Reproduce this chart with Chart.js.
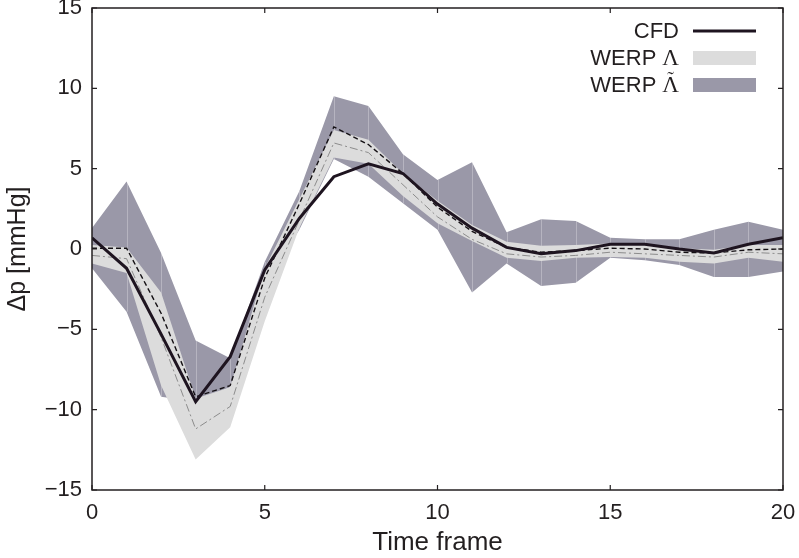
<!DOCTYPE html>
<html><head><meta charset="utf-8">
<script src="https://cdn.jsdelivr.net/npm/chart.js@4/dist/chart.umd.min.js"></script>
<style>html,body{margin:0;padding:0;background:#fff;}#wrap{width:799px;height:558px;}</style>
</head><body><div id="wrap"><canvas id="c" width="799" height="558"></canvas></div>
<script>
const frames = [0,1,2,3,4,5,6,7,8,9,10,11,12,13,14,15,16,17,18,19,20];
const xTickValues = [0,5,10,15,20];
const yTickValues = [-15,-10,-5,0,5,10,15];
const cfd        = [0.7,-1.2,-5.3,-9.5,-6.7,-1.3,1.9,4.5,5.3,4.7,2.8,1.3,0.1,-0.3,-0.1,0.3,0.3,0.0,-0.25,0.3,0.7];
const meanDashed = [0.05,0.05,-4.0,-9.2,-8.5,-1.8,2.8,7.6,6.5,4.7,2.6,1.1,0.1,-0.2,-0.1,0.05,0.0,-0.2,-0.25,-0.05,0.0];
const meanDashDot= [-0.4,-0.6,-5.5,-11.2,-9.8,-3.0,1.8,6.6,6.0,4.0,2.0,0.6,-0.3,-0.5,-0.4,-0.2,-0.3,-0.4,-0.5,-0.2,-0.3];
const lightUpper = [0.25,0.1,-2.7,-9.3,-8.6,-1.2,3.1,7.4,6.8,4.7,3.0,1.5,0.45,0.2,0.25,0.35,0.25,0.05,-0.05,0.25,0.25];
const lightLower = [-0.9,-1.5,-8.5,-13.1,-11.1,-4.5,1.3,5.7,5.3,3.3,1.6,0.5,-0.55,-0.75,-0.55,-0.5,-0.55,-0.8,-0.9,-0.55,-0.8];
const darkUpper  = [1.3,4.2,-0.25,-5.7,-6.8,-0.8,3.6,9.5,8.9,5.9,4.3,5.4,1.05,1.85,1.75,0.7,0.6,0.6,1.2,1.7,1.2];
const darkLower  = [-1.2,-3.9,-9.2,-9.5,-8.6,-2.2,1.2,5.6,4.5,2.85,1.2,-2.7,-0.9,-2.3,-2.1,-0.55,-0.7,-1.0,-1.75,-1.75,-1.4];
const legendLabels = ['CFD', 'WERP', 'WERP'];
const legendSymbols = ['', '\u039B', '\u039B'];
const legendTilde = [false, false, true];

const TXT = '#231f20';
const DARK = '#9a98a8';
const LIGHT = '#dcdcdc';
const SANS = '"Liberation Sans", Arial, sans-serif';
const SERIF = '"Liberation Serif", "DejaVu Serif", serif';
const pts = arr => frames.map((f, i) => ({x: f, y: arr[i]}));
const minus = v => (v < 0 ? '\u2212' + Math.abs(v) : String(v));

const seams = {
  id: 'seams',
  afterDatasetDraw(chart, args) {
    if (args.index !== 5) return;
    const {ctx, chartArea, scales: {x, y}} = chart;
    ctx.save();
    ctx.beginPath(); ctx.rect(chartArea.left, chartArea.top, chartArea.width, chartArea.height); ctx.clip();
    ctx.strokeStyle = 'rgba(255,255,255,0.28)';
    ctx.lineWidth = 1;
    frames.forEach((f, i) => {
      if (i === 0 || i === frames.length - 1) return;
      const px = Math.round(x.getPixelForValue(f)) + 0.5;
      ctx.beginPath();
      ctx.moveTo(px, y.getPixelForValue(darkUpper[i]));
      ctx.lineTo(px, y.getPixelForValue(darkLower[i]));
      ctx.stroke();
    });
    ctx.restore();
  }
};

const frame = {
  id: 'frame',
  afterDraw(chart) {
    const {ctx, chartArea: a, scales: {x, y}} = chart;
    ctx.save();
    ctx.strokeStyle = TXT;
    ctx.lineWidth = 1.5;
    ctx.strokeRect(a.left, a.top, a.width, a.height);
    ctx.lineWidth = 1.2;
    const tl = 5;
    xTickValues.forEach(v => {
      const px = x.getPixelForValue(v);
      ctx.beginPath();
      ctx.moveTo(px, a.bottom); ctx.lineTo(px, a.bottom - tl);
      ctx.moveTo(px, a.top); ctx.lineTo(px, a.top + tl);
      ctx.stroke();
    });
    yTickValues.forEach(v => {
      const py = y.getPixelForValue(v);
      ctx.beginPath();
      ctx.moveTo(a.left, py); ctx.lineTo(a.left + tl, py);
      ctx.moveTo(a.right, py); ctx.lineTo(a.right - tl, py);
      ctx.stroke();
    });
    // legend
    const rows = [31, 58, 85];
    const textRight = 679, sx0 = 693, sx1 = 756;
    ctx.textBaseline = 'middle';
    ctx.fillStyle = TXT;
    rows.forEach((ry, i) => {
      if (i === 0) {
        ctx.font = '22px ' + SANS;
        ctx.textAlign = 'right';
        ctx.fillText(legendLabels[i], textRight, ry + 1);
        ctx.strokeStyle = '#1e1420'; ctx.lineWidth = 3;
        ctx.beginPath(); ctx.moveTo(sx0, ry); ctx.lineTo(sx1, ry); ctx.stroke();
      } else {
        ctx.font = '23px ' + SERIF;
        ctx.textAlign = 'right';
        ctx.fillText(legendSymbols[i], textRight, ry + 1);
        const w = ctx.measureText(legendSymbols[i]).width;
        if (legendTilde[i]) {
          ctx.textAlign = 'center';
          ctx.font = '20px ' + SERIF;
          ctx.fillText('\u02DC', textRight - w / 2, ry - 4);
          ctx.textAlign = 'right';
        }
        ctx.font = '22px ' + SANS;
        ctx.fillText(legendLabels[i], textRight - w - 6, ry + 1);
        ctx.fillStyle = i === 1 ? LIGHT : DARK;
        ctx.fillRect(sx0, ry - 7, sx1 - sx0, 14);
        ctx.fillStyle = TXT;
      }
    });
    ctx.restore();
  }
};

new Chart(document.getElementById('c'), {
  type: 'line',
  data: {
    datasets: [
      {label: 'CFD', data: pts(cfd), borderColor: '#1e1420', borderWidth: 3, pointRadius: 0, fill: false, order: 0, tension: 0},
      {label: 'mean dashed', data: pts(meanDashed), borderColor: '#141014', borderWidth: 1.4, borderDash: [5, 3], pointRadius: 0, fill: false, order: 1},
      {label: 'mean dash-dot', data: pts(meanDashDot), borderColor: '#8c8c8c', borderWidth: 1, borderDash: [8, 3, 2, 3], pointRadius: 0, fill: false, order: 2},
      {label: 'WERP \u039B upper', data: pts(lightUpper), borderWidth: 0, borderColor: 'rgba(0,0,0,0)', backgroundColor: LIGHT, pointRadius: 0, fill: {target: 4}, order: 3},
      {label: 'WERP \u039B lower', data: pts(lightLower), borderWidth: 0, borderColor: 'rgba(0,0,0,0)', pointRadius: 0, fill: false, order: 3},
      {label: 'WERP \u039B\u0303 upper', data: pts(darkUpper), borderWidth: 0, borderColor: 'rgba(0,0,0,0)', backgroundColor: DARK, pointRadius: 0, fill: {target: 6}, order: 5},
      {label: 'WERP \u039B\u0303 lower', data: pts(darkLower), borderWidth: 0, borderColor: 'rgba(0,0,0,0)', pointRadius: 0, fill: false, order: 5}
    ]
  },
  options: {
    responsive: false,
    animation: false,
    devicePixelRatio: 1,
    layout: {padding: {left: 0, right: 16, top: 8, bottom: 0}},
    plugins: {legend: {display: false}, tooltip: {enabled: false}, filler: {propagate: false}},
    scales: {
      x: {
        type: 'linear', min: 0, max: 20,
        afterBuildTicks: s => { s.ticks = xTickValues.map(v => ({value: v})); },
        ticks: {callback: v => minus(v), color: TXT, font: {family: SANS, size: 22}, padding: 10, maxRotation: 0},
        grid: {display: false, drawTicks: false},
        border: {display: false},
        title: {display: true, text: 'Time frame', color: TXT, font: {family: SANS, size: 26, lineHeight: 1.1}, padding: {top: 0, bottom: 1}},
        afterFit: s => { s.height = 68; s.paddingLeft = 0; s.paddingRight = 0; }
      },
      y: {
        type: 'linear', min: -15, max: 15,
        afterBuildTicks: s => { s.ticks = yTickValues.map(v => ({value: v})); },
        ticks: {callback: v => minus(v), color: TXT, font: {family: SANS, size: 22}, padding: 10},
        grid: {display: false, drawTicks: false},
        border: {display: false},
        title: {display: true, text: '\u0394p [mmHg]', color: TXT, font: {family: SANS, size: 25, lineHeight: 1.1}, padding: {top: 4, bottom: 0}},
        afterFit: s => { s.width = 92; s.paddingTop = 0; s.paddingBottom = 0; }
      }
    }
  },
  plugins: [seams, frame]
});
</script></body></html>
